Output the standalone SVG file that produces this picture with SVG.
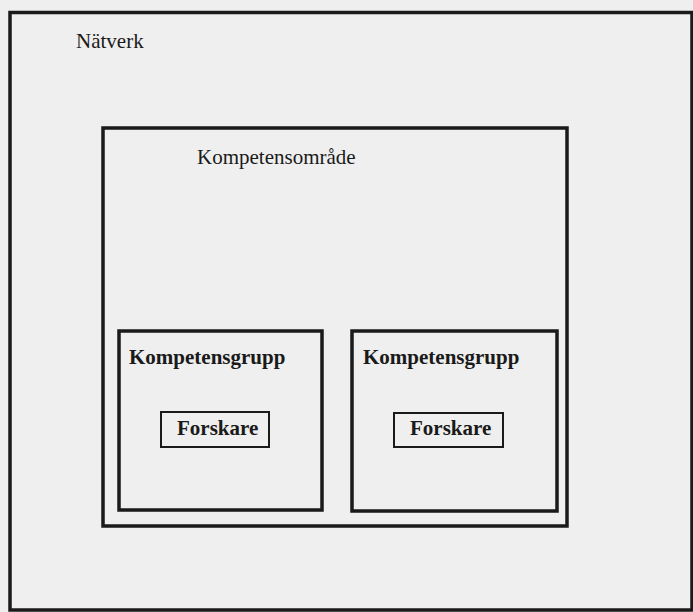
<svg xmlns="http://www.w3.org/2000/svg" width="693" height="612" viewBox="0 0 693 612">
<style>
.box{fill:none;stroke:#1a1a1a}
.t{font-family:"Liberation Serif","Times New Roman",serif;fill:#1a1a1a;font-size:21px}
.b{font-weight:bold}
</style>
<rect x="0" y="0" width="693" height="612" fill="#efefef"/>
<g id="natverk">
<rect class="box" x="10" y="12.5" width="682" height="597.5" stroke-width="3.5"/>
<text class="t" x="76" y="48">Nätverk</text>
</g>
<g id="kompetensomrade">
<rect class="box" x="103" y="128" width="464" height="398" stroke-width="3.5"/>
<text class="t" x="197" y="164">Kompetensområde</text>
</g>
<g id="grupp1">
<rect class="box" x="119" y="331" width="203" height="179" stroke-width="3.5"/>
<text class="t b" x="129" y="364">Kompetensgrupp</text>
</g>
<g id="forskare1">
<rect class="box" x="161" y="412" width="108" height="35" stroke-width="2"/>
<text class="t b" x="177" y="435">Forskare</text>
</g>
<g id="grupp2">
<rect class="box" x="352" y="331" width="205" height="180" stroke-width="3.5"/>
<text class="t b" x="363" y="364">Kompetensgrupp</text>
</g>
<g id="forskare2">
<rect class="box" x="394" y="413" width="109" height="34" stroke-width="2"/>
<text class="t b" x="410" y="435">Forskare</text>
</g>
<g id="connectors"></g>
</svg>
